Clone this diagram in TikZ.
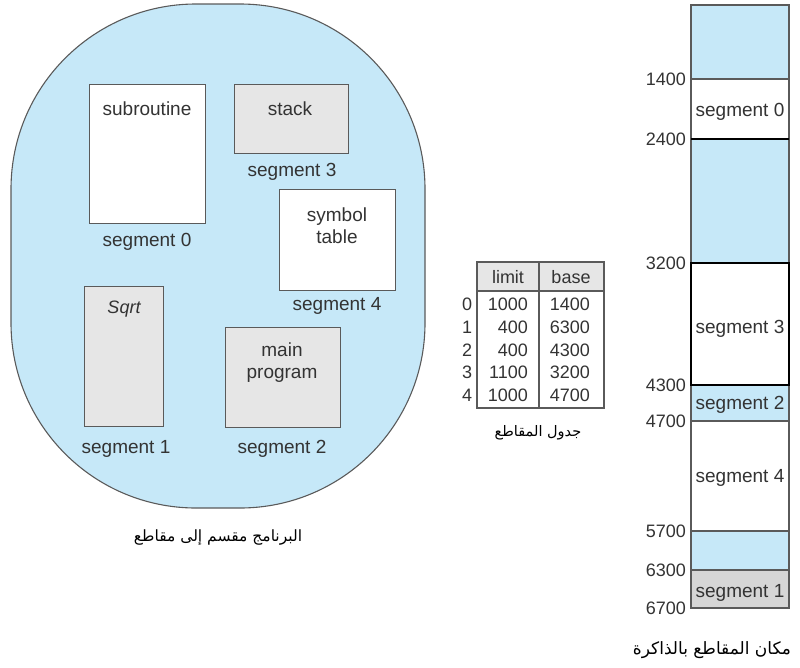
\documentclass[tikz,border=0pt]{standalone}
\usepackage{fontspec}
\setmainfont{Liberation Sans}
\newfontfamily\arabicfont[Script=Arabic]{DejaVu Sans}
\TeXXeTstate=1
\definecolor{skyfill}{HTML}{C6E8F8}
\definecolor{grayfill}{HTML}{E6E6E6}
\definecolor{darkgrayfill}{HTML}{D6D6D6}
\definecolor{edgegray}{HTML}{5A5A5A}
\definecolor{txt}{HTML}{333333}
\tikzset{
  segbox/.style={draw=edgegray, line width=1.2pt, anchor=north west, inner sep=0pt},
  lbl/.style={text=txt, font=\fontsize{19}{22}\selectfont, inner sep=0pt, yshift=-1.5pt},
  tbl/.style={text=txt, font=\fontsize{18}{21}\selectfont, inner sep=0pt},
  arcap/.style={text=black, font=\arabicfont\fontsize{15.5}{18}\selectfont, inner sep=0pt},
  memline/.style={draw=edgegray, line width=1.1pt},
}
\begin{document}
\begin{tikzpicture}[x=1pt,y=-1pt]
\useasboundingbox (0,0) rectangle (800,667);
% ---------- program shape ----------
\draw[fill=skyfill, draw=edgegray, line width=1.1pt, rounded corners=185pt] (11,4) rectangle (425,508);
% boxes
\node (sub) [segbox, fill=white, minimum width=116pt, minimum height=139pt] at (89,84) {};
\node (stk) [segbox, fill=grayfill, minimum width=114pt, minimum height=69pt] at (234,84) {};
\node (sym) [segbox, fill=white, minimum width=116pt, minimum height=101pt] at (279,189) {};
\node (sqr) [segbox, fill=grayfill, minimum width=79pt, minimum height=140pt] at (84,286) {};
\node (mpg) [segbox, fill=grayfill, minimum width=115pt, minimum height=100pt] at (225,327) {};
% texts
\node (tsub) [lbl] at (147,107) {subroutine};
\node (tstk) [lbl] at (290,107) {stack};
\node (tsym) [lbl, align=center, font=\fontsize{19}{22}\selectfont] at (337,224) {symbol\\table};
\node (tsqr) [lbl, font=\fontsize{18}{22}\selectfont\itshape] at (124,308) {Sqrt};
\node (tmpg) [lbl, align=center, font=\fontsize{19}{22}\selectfont] at (282,361) {main\\program};
\node (s0) [lbl] at (147,240) {segment 0};
\node (s3) [lbl] at (292,170) {segment 3};
\node (s4) [lbl] at (337,304) {segment 4};
\node (s1) [lbl] at (126,447) {segment 1};
\node (s2) [lbl] at (282,447) {segment 2};
\node (cap1) [arcap] at (218,537) {\beginR البرنامج مقسم إلى مقاطع\endR};
% ---------- segment table ----------
\fill[grayfill] (477,262) rectangle (604,291);
\draw[edgegray, line width=1.1pt] (477,262) rectangle (604,408);
\draw[edgegray, line width=1.1pt] (477,291) -- (604,291);
\draw[edgegray, line width=1.1pt] (539,262) -- (539,408);
\node (hl) [tbl] at (508,277) {limit};
\node (hb) [tbl] at (571,277) {base};
\foreach \i/\l/\b/\y in {0/1000/1400/304, 1/400/6300/327, 2/400/4300/350, 3/1100/3200/372, 4/1000/4700/395}{
  \node (r\i) [tbl] at (467,\y) {\i};
  \node (l\i) [tbl, anchor=east] at (528,\y) {\l};
  \node (b\i) [tbl, anchor=east] at (590,\y) {\b};
}
\node (cap2) [arcap, font=\arabicfont\fontsize{14.5}{17}\selectfont] at (538,433) {\beginR جدول المقاطع\endR};
% ---------- memory ----------
\fill[skyfill] (691,5) rectangle (789,79);
\fill[white] (691,79) rectangle (789,139);
\fill[skyfill] (691,139) rectangle (789,263);
\fill[white] (691,263) rectangle (789,385);
\fill[skyfill] (691,385) rectangle (789,421);
\fill[white] (691,421) rectangle (789,531);
\fill[skyfill] (691,531) rectangle (789,570);
\fill[darkgrayfill] (691,570) rectangle (789,608);
\draw[memline] (691,5) rectangle (789,608);
\foreach \y in {79,421,531,570}{ \draw[memline] (691,\y) -- (789,\y); }
\draw[black, line width=1.4pt] (691,139) -- (789,139);
\draw[black, line width=1.4pt] (691,263) rectangle (789,385);
\foreach \v/\y in {1400/79, 2400/139, 3200/263, 4300/385, 4700/421, 5700/531, 6300/570, 6700/608}{
  \node (a\v) [tbl, anchor=east] at (686,\y) {\v};
}
\node (m0) [lbl] at (740,110) {segment 0};
\node (m3) [lbl] at (740,327) {segment 3};
\node (m2) [lbl] at (740,403) {segment 2};
\node (m4) [lbl] at (740,476) {segment 4};
\node (m1) [lbl] at (740,591) {segment 1};
\node (cap3) [arcap, font=\arabicfont\fontsize{17}{20}\selectfont] at (712,650) {\beginR مكان المقاطع بالذاكرة\endR};
\end{tikzpicture}
\end{document}
